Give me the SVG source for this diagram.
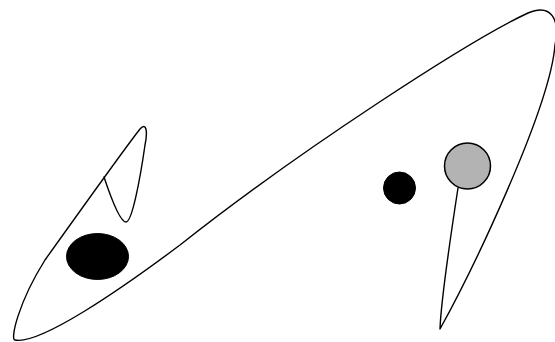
<svg xmlns="http://www.w3.org/2000/svg" width="555" height="342" viewBox="0 0 555 342">
<style>
.edge{fill:none;stroke:#000;stroke-width:1.4;stroke-linejoin:round;stroke-linecap:round}
.dark{fill:#000;stroke:#000;stroke-width:1}
.grey{fill:#b3b3b3;stroke:#000;stroke-width:1.5}
</style>
<rect width="555" height="342" fill="#fff"/>
<g id="connectors">
<path class="edge" d="M458,188 C450,240 441,300 440,329 C470,275 550,110 555,45 C560,20 552,3 528,13 C470,40 300,150 180,245 C120,290 40,345 15,340 C10,340 18,303 45,260 C75,218 125,148 140,129 C146,122 148,130 145,145 C140,180 132,222 126,222 C120,222 110,195 104,177"/>
</g>
<g id="node-ellipse"><ellipse class="dark" cx="97.5" cy="256.5" rx="31" ry="23"/></g>
<g id="node-dot"><circle class="dark" cx="399.5" cy="188" r="16"/></g>
<g id="node-grey"><circle class="grey" cx="467.5" cy="166" r="23"/></g>
</svg>
